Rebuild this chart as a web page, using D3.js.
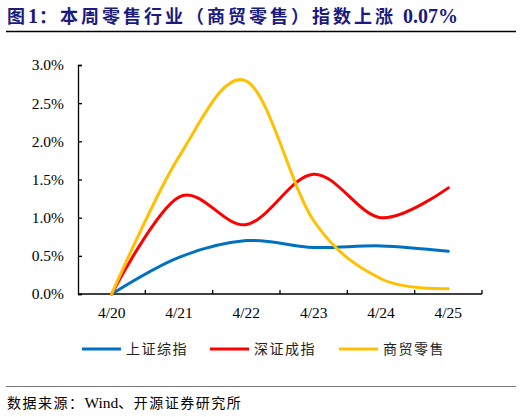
<!DOCTYPE html>
<html>
<head>
<meta charset="utf-8">
<script src="https://cdn.jsdelivr.net/npm/d3@7"></script>
<style>
  body { margin: 0; background: #fff; }
</style>
</head>
<body>
<div id="chart"></div>
<script>
// categories and series (cumulative change, %)
var dates = ["4/20", "4/21", "4/22", "4/23", "4/24", "4/25"];
var shIndex = [0, 0.48, 0.70, 0.61, 0.63, 0.56];
var szIndex = [0, 1.27, 0.91, 1.57, 1.00, 1.39];
var retail = [0, 1.80, 2.79, 0.96, 0.20, 0.07];
var yTicks = [0, 0.5, 1.0, 1.5, 2.0, 2.5, 3.0];

var seriesNames = ["上证综指", "深证成指", "商贸零售"];
var seriesColors = ["#0070C0", "#FF0000", "#FFC000"];
var seriesValues = [shIndex, szIndex, retail];

var svgWidth = 522;
var svgHeight = 417;

var margin = { top: 65, right: 40, bottom: 123, left: 78 };
var width = 482 - margin.left;
var height = 294 - margin.top;

var svg = d3.select("#chart")
  .append("svg")
  .attr("width", svgWidth)
  .attr("height", svgHeight);

// title (CJK in sans, digits in serif bold)
var title = svg.append("text")
  .attr("x", 7)
  .attr("y", 23)
  .attr("font-weight", "bold")
  .attr("fill", "#1a1a80");

var titleParts = [
  ["图", "Noto Sans CJK SC", "18px", "3px"],
  ["1", "Liberation Serif", "20px", "1px"],
  ["：本周零售行业（商贸零售）指数上涨 ", "Noto Sans CJK SC", "18px", "3px"],
  ["0.07%", "Liberation Serif", "20px", "0px"]
];
title.selectAll("tspan")
  .data(titleParts)
  .enter()
  .append("tspan")
  .attr("font-family", d => d[1])
  .attr("font-size", d => d[2])
  .attr("letter-spacing", d => d[3])
  .text(d => d[0]);

svg.append("line")
  .attr("x1", 6).attr("x2", 516)
  .attr("y1", 31.5).attr("y2", 31.5)
  .attr("stroke", "#000")
  .attr("stroke-width", 1.5);

var chartGroup = svg.append("g")
  .attr("transform", `translate(${margin.left}, ${margin.top})`);

// scales
var xBand = d3.scaleBand()
  .domain(dates)
  .range([0, width]);

var yScale = d3.scaleLinear()
  .domain([0, 3.0])
  .range([height, 0]);

var xPos = d => xBand(d) + xBand.bandwidth() / 2;

// axes
var yAxis = d3.axisLeft(yScale)
  .tickValues(yTicks)
  .tickSize(-4)
  .tickPadding(14)
  .tickFormat(d => d.toFixed(1) + "%");

var yG = chartGroup.append("g").call(yAxis);
yG.select(".domain").attr("stroke", "#000").attr("stroke-width", 1.3);
yG.selectAll(".tick line").attr("stroke", "#000").attr("stroke-width", 1.3);
yG.selectAll("text")
  .attr("font-family", "Liberation Serif")
  .attr("font-size", "15.5px")
  .attr("fill", "#000");

// x axis: ticks at band boundaries, labels at band centers
var xG = chartGroup.append("g")
  .attr("transform", `translate(0, ${height})`);

xG.append("line")
  .attr("x1", 0).attr("x2", width)
  .attr("y1", 0).attr("y2", 0)
  .attr("stroke", "#000")
  .attr("stroke-width", 1.3);

xG.selectAll(".xtick")
  .data(dates)
  .enter()
  .append("line")
  .attr("class", "xtick")
  .attr("x1", d => xBand(d) + xBand.bandwidth())
  .attr("x2", d => xBand(d) + xBand.bandwidth())
  .attr("y1", 0).attr("y2", -4)
  .attr("stroke", "#000")
  .attr("stroke-width", 1.3);

xG.selectAll(".xlabel")
  .data(dates)
  .enter()
  .append("text")
  .attr("class", "xlabel")
  .attr("x", d => xPos(d))
  .attr("y", 24)
  .attr("text-anchor", "middle")
  .attr("font-family", "Liberation Serif")
  .attr("font-size", "15.5px")
  .attr("fill", "#000")
  .text(d => d);

// lines
var line = d3.line()
  .x((d, i) => xPos(dates[i]))
  .y(d => yScale(d))
  .curve(d3.curveCardinal.tension(0));

chartGroup.selectAll(".series")
  .data(seriesValues)
  .enter()
  .append("path")
  .attr("class", "series")
  .attr("d", d => line(d))
  .attr("fill", "none")
  .attr("stroke", (d, i) => seriesColors[i])
  .attr("stroke-width", 3)
  .attr("stroke-linecap", "round");

// legend
var legendX = [82, 210, 339];
var legend = svg.append("g");

legend.selectAll("line")
  .data(seriesNames)
  .enter()
  .append("line")
  .attr("x1", (d, i) => legendX[i])
  .attr("x2", (d, i) => legendX[i] + 39)
  .attr("y1", 349).attr("y2", 349)
  .attr("stroke", (d, i) => seriesColors[i])
  .attr("stroke-width", 3);

legend.selectAll("text")
  .data(seriesNames)
  .enter()
  .append("text")
  .attr("x", (d, i) => legendX[i] + 44)
  .attr("y", 354)
  .attr("font-family", "Noto Sans CJK SC")
  .attr("font-size", "14px")
  .attr("letter-spacing", "1.5px")
  .attr("fill", "#222")
  .text(d => d);

// source footer
svg.append("line")
  .attr("x1", 6).attr("x2", 516)
  .attr("y1", 386.5).attr("y2", 386.5)
  .attr("stroke", "#777")
  .attr("stroke-width", 1);

var source = svg.append("text")
  .attr("x", 7)
  .attr("y", 408)
  .attr("fill", "#000");

var sourceParts = [
  ["数据来源：", "Noto Sans CJK SC", "14px", "1.5px"],
  ["Wind", "Liberation Serif", "15.5px", "0px"],
  ["、开源证券研究所", "Noto Sans CJK SC", "14px", "1.5px"]
];
source.selectAll("tspan")
  .data(sourceParts)
  .enter()
  .append("tspan")
  .attr("font-family", d => d[1])
  .attr("font-size", d => d[2])
  .attr("letter-spacing", d => d[3])
  .text(d => d[0]);
</script>
</body>
</html>
